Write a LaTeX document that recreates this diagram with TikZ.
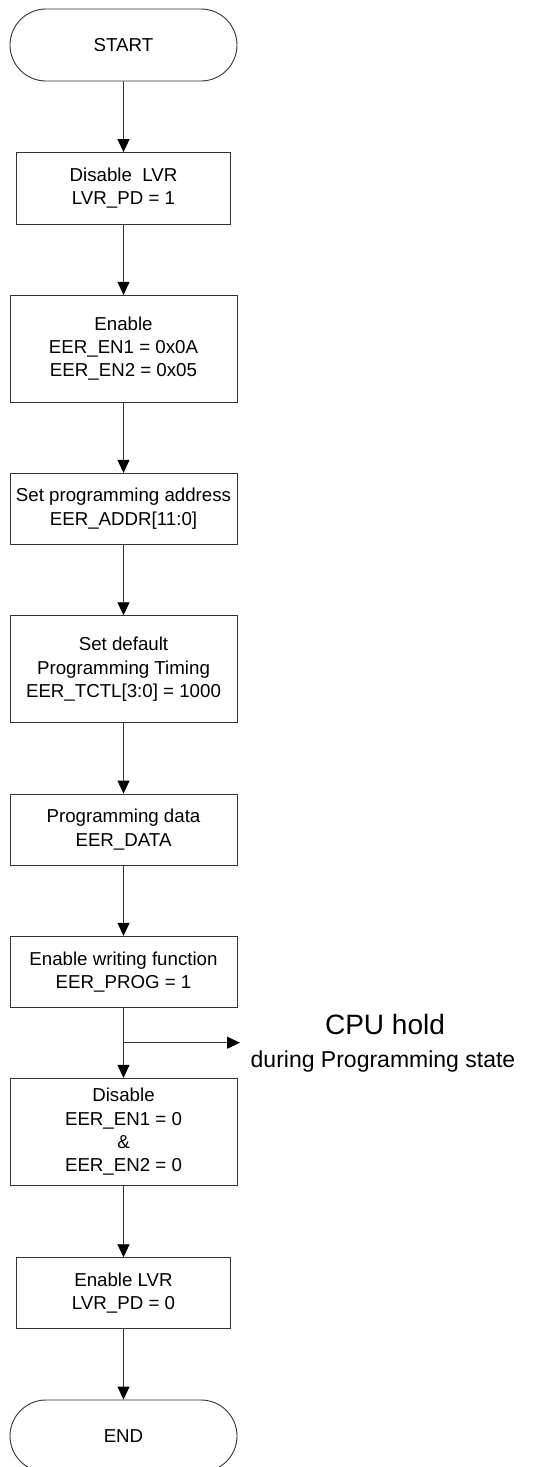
\documentclass[tikz,border=0pt]{standalone}
\usepackage{fontspec}
\setmainfont{Liberation Sans}
\usetikzlibrary{shapes.misc,arrows.meta}
\begin{document}
\begin{tikzpicture}[x=1pt,y=-1pt,
  line/.style={draw=black!80,line width=0.9pt},
  boxtext/.style={font=\fontsize{18.7}{23.3}\selectfont,align=center,text=black},
  stepbox/.style={line,boxtext,rectangle,inner sep=0pt},
  term/.style={line,boxtext,rounded rectangle,inner sep=0pt,minimum width=227pt,minimum height=72pt},
  arr/.style={line,-{Triangle[length=13pt,width=12pt,color=black]}}
]
\useasboundingbox (0,0) rectangle (559,1467);
\node[term] (start) at (123.5,45) {START};
\node[stepbox,minimum width=214pt,minimum height=71.5pt] (b1) at (123.5,188.3) {Disable\ \ LVR\\LVR\_PD = 1};
\node[stepbox,minimum width=227pt,minimum height=106.7pt] (b2) at (123.5,348.7) {Enable\\EER\_EN1 = 0x0A\\EER\_EN2 = 0x05};
\node[stepbox,minimum width=227pt,minimum height=71pt] (b3) at (123.5,508.8) {Set programming address\\EER\_ADDR[11:0]};
\node[stepbox,minimum width=227pt,minimum height=107pt] (b4) at (123.5,669.2) {Set default\\Programming Timing\\EER\_TCTL[3:0] = 1000};
\node[stepbox,minimum width=227pt,minimum height=71pt] (b5) at (123.5,829.5) {Programming data\\EER\_DATA};
\node[stepbox,minimum width=227pt,minimum height=71pt] (b6) at (123.5,971.8) {Enable writing function\\EER\_PROG = 1};
\node[stepbox,minimum width=227pt,minimum height=107.4pt] (b7) at (123.5,1132) {Disable\\EER\_EN1 = 0\\\&\\EER\_EN2 = 0};
\node[stepbox,minimum width=214pt,minimum height=70.6pt] (b8) at (123.5,1293) {Enable LVR\\LVR\_PD = 0};
\node[term] (end) at (123.5,1436) {END};
\draw[arr] (start) -- (b1);
\draw[arr] (b1) -- (b2);
\draw[arr] (b2) -- (b3);
\draw[arr] (b3) -- (b4);
\draw[arr] (b4) -- (b5);
\draw[arr] (b5) -- (b6);
\draw[arr] (b6) -- (b7);
\draw[arr] (b7) -- (b8);
\draw[arr] (b8) -- (end);
\coordinate (br) at (123.5,1042.7);
\coordinate (brend) at (240,1042.7);
\draw[arr] (br) -- (brend);
\node[font=\fontsize{28}{32}\selectfont] (cpu) at (385,1024) {CPU hold};
\node[font=\fontsize{23}{27}\selectfont] (dur) at (383,1061.7) {during Programming state};
\end{tikzpicture}
\end{document}
